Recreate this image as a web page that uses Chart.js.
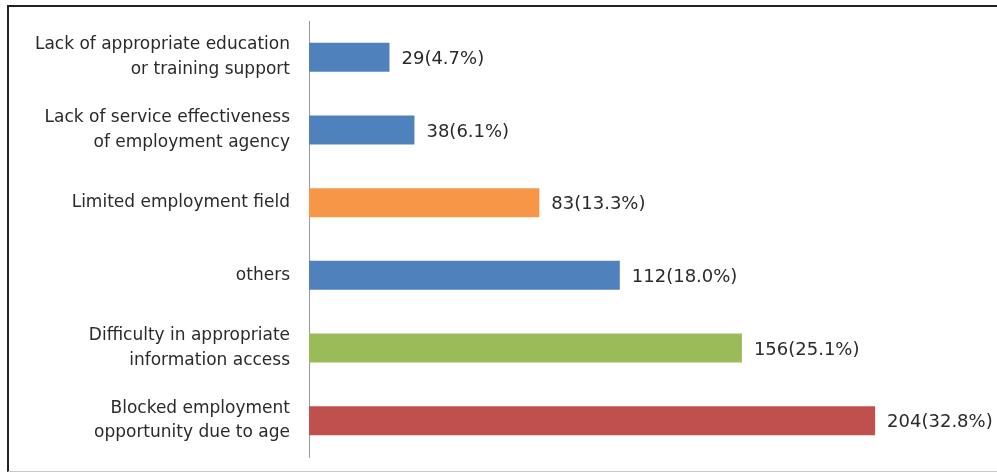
<!DOCTYPE html>
<html>
<head>
<meta charset="utf-8">
<script src="https://cdn.jsdelivr.net/npm/chart.js@4/dist/chart.umd.min.js"></script>
<style>
  html, body { margin: 0; padding: 0; background: #fff; }
  #wrap { position: relative; width: 997px; height: 472px; }
  #frame {
    position: absolute; left: 7px; top: 5px; right: 0; height: 464px;
    border-left: 2px solid #222; border-top: 2px solid #222; border-bottom: 1px solid #c8c8c8;
  }
  #chart { position: absolute; left: 0; top: 0; }
</style>
</head>
<body>
<div id="wrap">
  <div id="frame"></div>
  <canvas id="chart" width="997" height="472"></canvas>
</div>
<script>
// categories, top to bottom
const categories = [
  ["Lack of appropriate education", "or training support"],
  ["Lack of service effectiveness", "of employment agency"],
  "Limited employment field",
  "others",
  ["Difficulty in appropriate", "information access"],
  ["Blocked employment", "opportunity due to age"]
];
const counts = [29, 38, 83, 112, 156, 204];
const percents = [4.7, 6.1, 13.3, 18.0, 25.1, 32.8];
const barColors = ["#4F81BD", "#4F81BD", "#F79646", "#4F81BD", "#9BBB59", "#C0504D"];

// value labels like "29(4.7%)" at the end of each bar
const valueLabels = {
  id: "valueLabels",
  afterDatasetsDraw(chart) {
    const ctx = chart.ctx;
    const meta = chart.getDatasetMeta(0);
    ctx.save();
    ctx.font = "18px 'DejaVu Sans'";
    ctx.fillStyle = "#2a2a2a";
    ctx.textAlign = "left";
    ctx.textBaseline = "middle";
    meta.data.forEach((bar, i) => {
      ctx.fillText(counts[i] + "(" + percents[i].toFixed(1) + "%)", bar.x + 12, bar.y + 2);
    });
    ctx.restore();
  }
};

new Chart(document.getElementById("chart"), {
  type: "bar",
  data: {
    labels: categories,
    datasets: [{
      data: counts,
      backgroundColor: barColors,
      barPercentage: 0.4,
      categoryPercentage: 1
    }]
  },
  options: {
    indexAxis: "y",
    responsive: false,
    animation: false,
    layout: { padding: { left: 0, right: 22, top: 21, bottom: 15 } },
    plugins: { legend: { display: false }, tooltip: { enabled: false } },
    scales: {
      x: { display: false, min: 0, max: 240 },
      y: {
        grid: { display: false, drawTicks: false },
        border: { color: "#9a9a9a", width: 1 },
        ticks: {
          padding: 19,
          color: "#2a2a2a",
          font: { family: "'DejaVu Sans'", size: 17, lineHeight: 1.45 }
        },
        afterFit: (s) => {
          s.width = 309;
          s.paddingTop = 0;
          s.paddingBottom = 0;
        }
      }
    }
  },
  plugins: [valueLabels]
});
</script>
</body>
</html>
